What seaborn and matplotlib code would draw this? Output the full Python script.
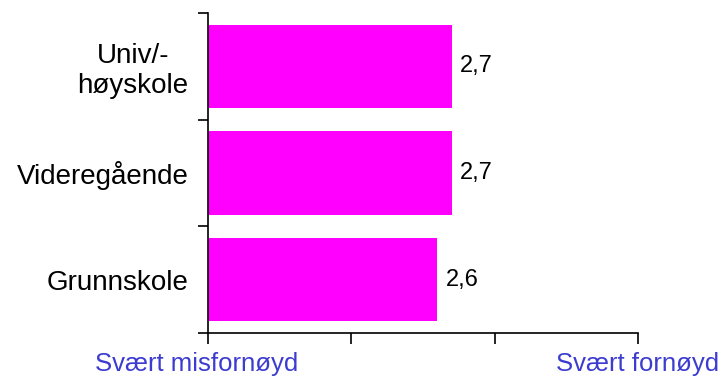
import matplotlib
matplotlib.use("Agg")
import matplotlib.pyplot as plt
import matplotlib.transforms as mtransforms
import pandas as pd
import seaborn as sns

# Data
categories = ["Univ/-\nhøyskole", "Videregående", "Grunnskole"]
scores = [2.7, 2.7, 2.6]
value_labels = ["2,7", "2,7", "2,6"]
x_ticks = [1, 2, 3, 4]
x_tick_labels = ["Svært misfornøyd", "", "", "Svært fornøyd"]

sns.set_style("white")
plt.rcParams["font.family"] = ["Liberation Sans", "DejaVu Sans"]
plt.rcParams["text.color"] = "black"
plt.rcParams["xtick.color"] = "black"
plt.rcParams["ytick.color"] = "black"

df = pd.DataFrame({"category": categories, "score": scores})

fig = plt.figure(figsize=(7.26, 3.76), dpi=100)
ax = fig.add_axes([0.2865, 0.1144, 0.592, 0.851])

sns.barplot(data=df, x="score", y="category", orient="h", color="#ff00ff",
            saturation=1, width=0.78, ax=ax)

# bars start at the "Svært misfornøyd" end of the scale
for patch, val in zip(ax.patches, scores):
    patch.set_x(1)
    patch.set_width(val - 1)
    patch.set_edgecolor("none")

ax.bar_label(ax.containers[0], labels=value_labels, padding=6, fontsize=17, color="black")

ax.set_xlim(1, 4)
ax.set_ylim(2.5, -0.5)
ax.set_xticks(x_ticks)
ax.set_xticklabels(x_tick_labels, color="#3c3cd0", fontsize=18.5)
ax.tick_params(axis="x", bottom=True, direction="out", length=8, width=1.2,
               color="black", pad=6)

# category labels, ticks on the boundaries between categories
ax.set_yticks([0, 1, 2])
ax.set_yticklabels(categories, fontsize=20, multialignment="center", color="black")
ax.set_yticks([-0.5, 0.5, 1.5, 2.5], minor=True)
ax.tick_params(axis="y", which="major", left=False, length=0, pad=14)
ax.tick_params(axis="y", which="minor", left=True, direction="out", length=7,
               width=1.2, color="black")

# left-hand scale label sits a little left of its tick
first = ax.get_xticklabels()[0]
first.set_transform(first.get_transform()
                    + mtransforms.ScaledTranslation(-0.11, 0, fig.dpi_scale_trans))

for side in ("top", "right"):
    ax.spines[side].set_visible(False)
for side in ("left", "bottom"):
    ax.spines[side].set_color("black")
    ax.spines[side].set_linewidth(1.2)

ax.set_xlabel("")
ax.set_ylabel("")

fig.savefig("out.png", dpi=100)
